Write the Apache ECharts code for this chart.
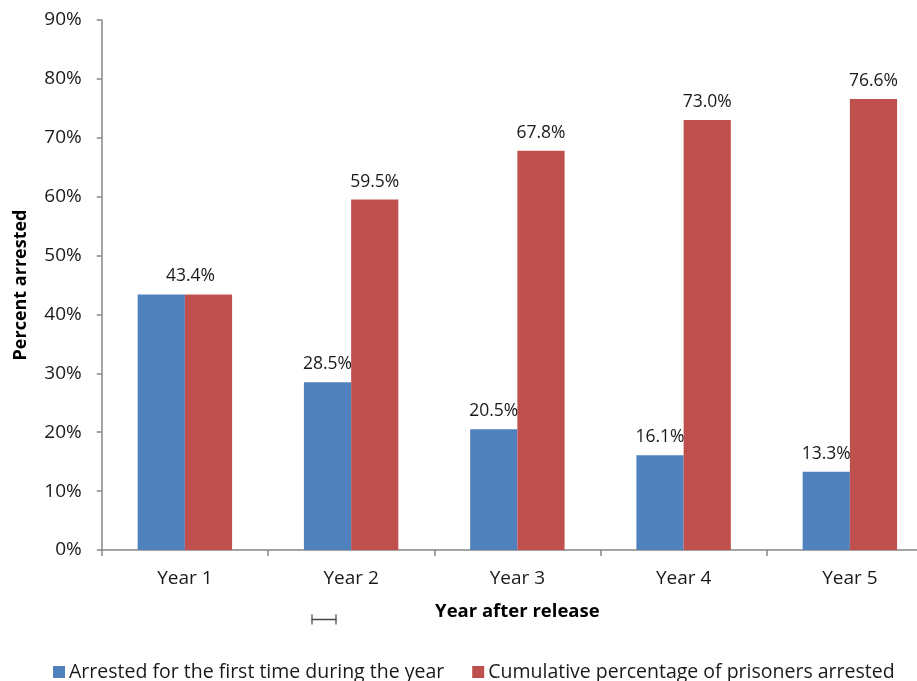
<!DOCTYPE html>
<html>
<head>
<meta charset="utf-8">
<script src="https://cdn.jsdelivr.net/npm/echarts@6/dist/echarts.min.js"></script>
<style>
  html, body { margin: 0; padding: 0; background: #ffffff; }
  #chart { width: 917px; height: 681px; }
</style>
</head>
<body>
<div id="chart"></div>
<script>
// Recidivism of released prisoners, by year after release
const categories = ['Year 1', 'Year 2', 'Year 3', 'Year 4', 'Year 5'];
const firstTimeArrested = [43.4, 28.5, 20.5, 16.1, 13.3];
const cumulativeArrested = [43.4, 59.5, 67.8, 73.0, 76.6];
const seriesNames = ['Arrested for the first time during the year', 'Cumulative percentage of prisoners arrested'];
const yTicks = [0, 10, 20, 30, 40, 50, 60, 70, 80, 90];

const FONT = '"Open Sans"';
const BLUE = '#4f81bd';
const RED = '#c0504d';
const TEXT = '#1a1a1a';

const chart = echarts.init(document.getElementById('chart'));

function pct(v) { return v.toFixed(1) + '%'; }

const baseLabel = {
  show: true,
  position: 'top',
  distance: 9,
  fontFamily: FONT,
  fontSize: 17.5,
  color: TEXT,
  formatter: p => pct(p.value)
};

// Year 1 values coincide, so only one centred label is shown for that pair
const blueData = firstTimeArrested.map((v, i) => i === 0 ? { value: v, label: { show: false } } : v);
const redData = cumulativeArrested.map((v, i) => i === 0 ? { value: v, label: { offset: [-18, 0] } } : v);

chart.setOption({
  animation: false,
  backgroundColor: '#ffffff',
  textStyle: { fontFamily: FONT },
  // the plot runs on past the right edge of the canvas
  grid: { left: 101.75, width: 831.25, top: 20, bottom: 131, containLabel: false, outerBoundsMode: 'none' },
  legend: {
    data: seriesNames,
    left: 48,
    top: 657,
    icon: 'rect',
    itemWidth: 12,
    itemHeight: 12,
    itemGap: 28,
    textStyle: { fontFamily: FONT, fontSize: 19.5, color: TEXT, padding: [0, 0, 0, -1] }
  },
  xAxis: {
    type: 'category',
    data: categories,
    name: 'Year after release',
    nameLocation: 'middle',
    nameGap: 52,
    nameTextStyle: { fontFamily: FONT, fontSize: 18.5, fontWeight: 'bold', color: '#000' },
    axisLine: { lineStyle: { color: '#868686', width: 1.5 } },
    axisTick: { show: true, length: 6, lineStyle: { color: '#868686', width: 1.5 } },
    axisLabel: { fontFamily: FONT, fontSize: 19, color: TEXT, margin: 19 }
  },
  yAxis: {
    type: 'value',
    min: yTicks[0],
    max: yTicks[yTicks.length - 1],
    interval: 10,
    name: 'Percent arrested',
    nameLocation: 'middle',
    nameGap: 72,
    nameTextStyle: { fontFamily: FONT, fontSize: 18, fontWeight: 'bold', color: '#000' },
    axisLine: { show: true, lineStyle: { color: '#868686', width: 1.5 } },
    axisTick: { show: true, length: 5, inside: false, lineStyle: { color: '#868686', width: 1.5 } },
    splitLine: { show: false },
    axisLabel: {
      fontFamily: FONT, fontSize: 19, color: TEXT, margin: 20,
      formatter: v => v + '%'
    }
  },
  series: [
    {
      name: seriesNames[0],
      type: 'bar',
      data: blueData,
      barWidth: '28.4%',
      barGap: '0%',
      itemStyle: { color: BLUE },
      label: baseLabel
    },
    {
      name: seriesNames[1],
      type: 'bar',
      data: redData,
      barWidth: '28.4%',
      itemStyle: { color: RED },
      label: baseLabel
    }
  ],
  graphic: [
    {
      type: 'group',
      left: 309,
      top: 612,
      children: [
        { type: 'line', shape: { x1: 0, y1: 5, x2: 25, y2: 5 }, style: { stroke: '#444', lineWidth: 1.5 } },
        { type: 'line', shape: { x1: 0.5, y1: 0, x2: 0.5, y2: 10 }, style: { stroke: '#444', lineWidth: 1.2 } },
        { type: 'line', shape: { x1: 24.5, y1: 0, x2: 24.5, y2: 10 }, style: { stroke: '#444', lineWidth: 1.2 } }
      ]
    }
  ]
});
</script>
</body>
</html>
